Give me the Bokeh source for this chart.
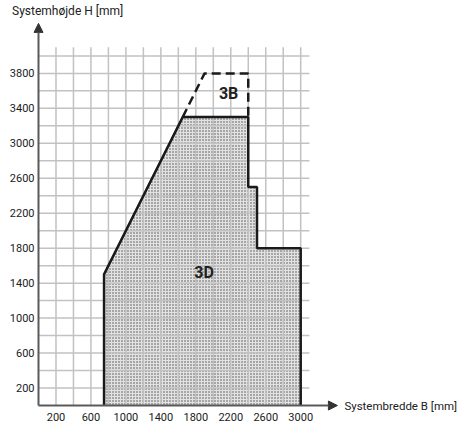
from bokeh.plotting import figure
from bokeh.models import Arrow, NormalHead, Range1d
from bokeh.core.properties import value
from bokeh.embed import file_html
from bokeh.resources import INLINE

# ---- data ----
x_ticks = [200, 600, 1000, 1400, 1800, 2200, 2600, 3000]
y_ticks = [200, 600, 1000, 1400, 1800, 2200, 2600, 3000, 3400, 3800]
x_tick_labels = [str(t) for t in x_ticks]
y_tick_labels = [str(t) for t in y_ticks]
grid_x = list(range(200, 3001, 200))
grid_y = list(range(200, 4001, 200))
grid_x_max = 3100
grid_y_max = 4100
area_b = [750, 750, 1650, 2400, 2400, 2500, 2500, 3000, 3000]
area_h = [0, 1500, 3300, 3300, 2500, 2500, 1800, 1800, 0]
dash_b = [1650, 1900, 2400, 2400]
dash_h = [3300, 3800, 3800, 3300]
zone_labels = ["3B", "3D"]
zone_b = [2175, 1895]
zone_h = [3570, 1525]
y_title = "Systemhøjde H [mm]"
x_title = "Systembredde B [mm]"

FONT = "Roboto"
TXT = "#222222"
W, H = 457, 424
K = 0.0874          # px per mm
OX, OY = 38, 405    # canvas position of the origin

p = figure(width=W, height=H, output_backend="svg", toolbar_location=None,
           x_range=Range1d(-OX / K, (W - OX) / K), y_range=Range1d(-(H - OY) / K, OY / K),
           min_border=0)
p.outline_line_color = None
p.axis.visible = False
p.grid.visible = False

# shaded area
p.patch(area_b, area_h, fill_color="#e2e2e2", line_color=None,
        hatch_pattern="dot", hatch_color="#4a4a4a", hatch_scale=3, hatch_weight=1)

# grid
p.segment(x0=grid_x, y0=[0] * len(grid_x), x1=grid_x, y1=[grid_y_max] * len(grid_x),
          line_color="#c2c2c2", line_width=1.5)
p.segment(x0=[0] * len(grid_y), y0=grid_y, x1=[grid_x_max] * len(grid_y), y1=grid_y,
          line_color="#c2c2c2", line_width=1.5)

# outlines
p.line(area_b, area_h, line_color="#1a1a1a", line_width=2.5)
p.line(dash_b, dash_h, line_color="#1a1a1a", line_width=2.5, line_dash="9 5")

# zone labels
p.text(x=zone_b, y=zone_h, text=zone_labels,
       text_font=value(FONT), text_font_size="16px", text_font_style="bold",
       text_align="center", text_baseline="middle", text_color=TXT)

# axes with arrows
p.add_layout(Arrow(x_start=0, y_start=0, x_end=0, y_end=4372, line_color="#5a5a5a", line_width=2,
                   end=NormalHead(size=9, fill_color="#333333", line_color="#333333")))
p.add_layout(Arrow(x_start=0, y_start=0, x_end=3420, y_end=0, line_color="#5a5a5a", line_width=2,
                   end=NormalHead(size=9, fill_color="#333333", line_color="#333333")))

# tick labels
p.text(x=x_ticks, y=[0] * len(x_ticks), text=x_tick_labels, y_offset=7,
       text_font=value(FONT), text_font_size="11px", text_color=TXT,
       text_align="center", text_baseline="top")
p.text(x=[0] * len(y_ticks), y=y_ticks, text=y_tick_labels, x_offset=-4,
       text_font=value(FONT), text_font_size="11px", text_color=TXT,
       text_align="right", text_baseline="middle")

# axis titles
p.text(x=[-303], y=[4518], text=[y_title], text_font=value(FONT), text_font_size="12px",
       text_color=TXT, text_align="left", text_baseline="middle")
p.text(x=[3500], y=[0], text=[x_title], text_font=value(FONT), text_font_size="11.5px",
       text_color=TXT, text_align="left", text_baseline="middle")

open("out.html", "w").write(file_html(p, INLINE))
